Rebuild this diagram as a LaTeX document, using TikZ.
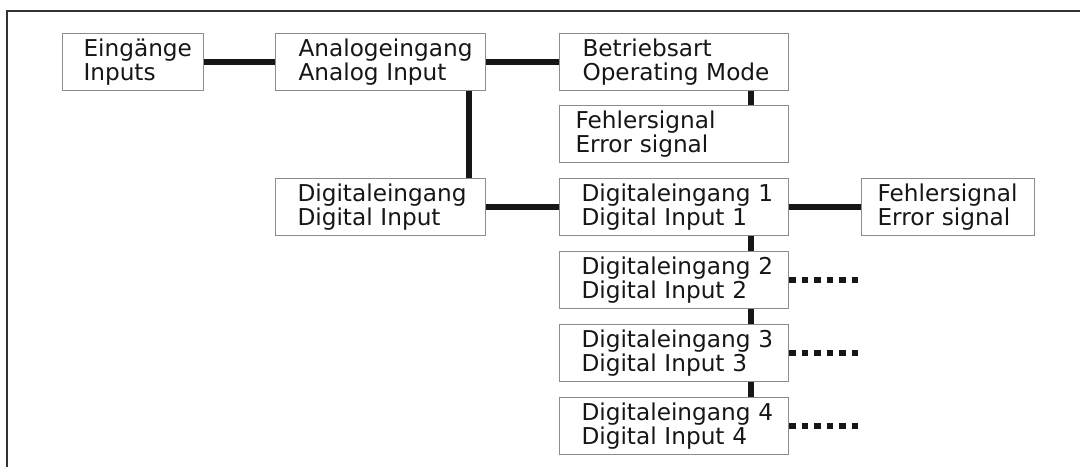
\documentclass[tikz,border=0pt]{standalone}
\usepackage{fontspec}
\setmainfont{DejaVu Sans}
\usetikzlibrary{positioning}

\definecolor{boxgray}{HTML}{8C8C8C}
\definecolor{inkdark}{HTML}{161616}

\begin{document}
\begin{tikzpicture}[x=1pt, y=-1pt, node distance={14pt and 72pt},
        blk/.style = {draw=boxgray, line width=1pt, text=inkdark, anchor=north west,
                      minimum height=57pt, inner xsep=0pt, inner ysep=0pt,
                      text width=#1, align=left,
                      font=\fontsize{23.2}{24.5}\selectfont},
        pad/.style = {execute at begin node={\leftskip=#1\relax\hyphenpenalty=10000}},
        conn/.style = {draw=inkdark, line width=6pt},
        dots/.style = {draw=inkdark, line width=6pt, dash pattern=on 6.5pt off 6pt}]
        \useasboundingbox (0,0) rectangle (1080,467);
        \draw[line width=1.5pt, draw=black!80] (7,467) -- (7,11) -- (1080,11);

        \node[blk=141pt, pad=21pt] (ein) at (62,33) {Eingänge\\Inputs};
        \node[blk=210pt, pad=23pt] (ana) [right=71pt of ein] {Analogeingang\\Analog Input};
        \node[blk=229pt, pad=23pt] (bet) [right=73pt of ana] {Betriebsart\\Operating Mode};
        \node[blk=229pt, pad=16pt] (err1) [below=14pt of bet] {Fehlersignal\\Error signal};
        \node[blk=229pt, pad=22pt] (di1) [below=15pt of err1] {Digitaleingang 1\\Digital Input 1};
        \node[blk=210pt, pad=22pt] (dig) [left=73pt of di1] {Digitaleingang\\Digital Input};
        \node[blk=173pt, pad=16pt] (err2) [right=72pt of di1] {Fehlersignal\\Error signal};
        \node[blk=229pt, pad=22pt] (di2) [below=15pt of di1] {Digitaleingang 2\\Digital Input 2};
        \node[blk=229pt, pad=22pt] (di3) [below=15pt of di2] {Digitaleingang 3\\Digital Input 3};
        \node[blk=229pt, pad=22pt] (di4) [below=15pt of di3] {Digitaleingang 4\\Digital Input 4};

        \path[conn] (ein) -- (ana);
        \path[conn] (ana) -- (bet);
        \path[conn] ([xshift=-17pt]ana.south east) -- ([xshift=-17pt]dig.north east);
        \path[conn] ([xshift=-38pt]bet.south east) -- ([xshift=-38pt]err1.north east);

        \path[conn] (dig) -- (di1);
        \path[conn] (di1) -- (err2);
        \path[conn] ([xshift=-38pt]di1.south east) -- ([xshift=-38pt]di2.north east);
        \path[conn] ([xshift=-38pt]di2.south east) -- ([xshift=-38pt]di3.north east);
        \path[conn] ([xshift=-38pt]di3.south east) -- ([xshift=-38pt]di4.north east);

        % open ends of the lower inputs
        \coordinate (o2) at ([xshift=71pt]di2.east);
        \coordinate (o3) at ([xshift=71pt]di3.east);
        \coordinate (o4) at ([xshift=71pt]di4.east);
        \path[dots] (di2.east) -- (o2);
        \path[dots] (di3.east) -- (o3);
        \path[dots] (di4.east) -- (o4);

    \end{tikzpicture}
\end{document}
